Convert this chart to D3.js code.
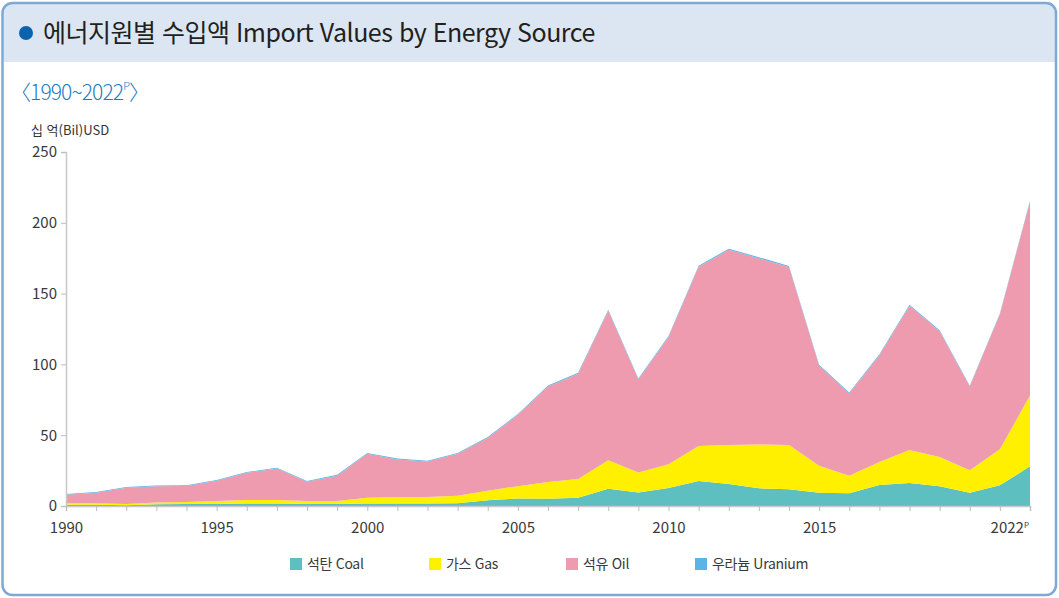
<!DOCTYPE html>
<html lang="ko">
  <head>
    <meta charset="UTF-8" />
    <title>에너지원별 수입액</title>
    <script src="https://cdn.jsdelivr.net/npm/d3@7/dist/d3.min.js"></script>
    <style>
      body { margin: 0; background: #fff; }
      text { font-family: "Noto Sans CJK KR", "Noto Sans", sans-serif; }
    </style>
  </head>
  <body>
    <div id="wrapper"></div>
    <script>
      const years = d3.range(1990, 2023);
      const coal = [0.8, 0.8, 0.6, 1.2, 1.4, 1.5, 1.8, 1.8, 1.5, 1.5, 1.7, 1.8, 1.8, 1.9, 4.1, 5.3, 5.2, 5.9, 12.2, 9.6, 12.7, 17.6, 15.5, 12.5, 11.8, 9.4, 9.0, 14.8, 16.2, 13.9, 9.4, 14.6, 28.0];
      const gas = [1.1, 1.2, 0.8, 1.3, 1.4, 2.0, 2.4, 2.5, 2.0, 2.0, 4.2, 4.5, 4.5, 5.4, 6.7, 8.7, 11.8, 13.1, 20.1, 14.0, 16.8, 24.8, 27.5, 31.0, 31.2, 19.1, 12.4, 16.2, 23.3, 20.7, 15.8, 25.4, 50.0];
      const oil = [6.0, 7.4, 11.5, 11.4, 11.4, 14.4, 19.2, 22.1, 13.6, 17.9, 31.0, 26.6, 25.1, 29.6, 37.3, 50.4, 67.4, 74.4, 105.6, 65.8, 89.9, 126.5, 137.9, 131.4, 125.7, 70.5, 58.0, 75.4, 101.9, 88.8, 59.2, 95.4, 136.9];
      const uranium = [0.5, 0.5, 0.5, 0.5, 0.5, 0.5, 0.6, 0.6, 0.6, 0.6, 0.6, 0.6, 0.6, 0.6, 0.6, 0.6, 0.7, 0.7, 0.7, 0.7, 0.7, 0.8, 0.8, 0.8, 0.8, 0.7, 0.7, 0.7, 0.7, 0.7, 0.6, 0.6, 0.7];
      const yTicks = [0, 50, 100, 150, 200, 250];
      const xTickLabels = [1990, 1995, 2000, 2005, 2010, 2015];

      const seriesKeys = ["coal", "gas", "oil", "uranium"];
      const seriesNames = ["석탄 Coal", "가스 Gas", "석유 Oil", "우라늄 Uranium"];
      const colors = ["#5ebfc0", "#fff000", "#ef9baf", "#5ab4e5"];

      const width = 1059;
      const height = 598;
      const margin = { top: 152, left: 66 };
      const plotW = 964;
      const plotH = 354;

      const table = years.map((y, i) => ({
        year: y,
        coal: coal[i],
        gas: gas[i],
        oil: oil[i],
        uranium: uranium[i],
      }));

      const svg = d3
        .select("#wrapper")
        .append("svg")
        .attr("width", width)
        .attr("height", height);

      // frame + header
      svg
        .append("path")
        .attr("d", "M3,62 V13 Q3,3 13,3 H1046 Q1056,3 1056,13 V62 Z")
        .attr("fill", "#dce6f2");
      svg
        .append("rect")
        .attr("x", 2.5)
        .attr("y", 3)
        .attr("width", 1053.5)
        .attr("height", 592)
        .attr("rx", 10)
        .attr("fill", "none")
        .attr("stroke", "#7ea9d6")
        .attr("stroke-width", 2.5);

      svg.append("circle").attr("cx", 26).attr("cy", 33).attr("r", 7).attr("fill", "#0b63ad");
      svg
        .append("text")
        .attr("x", 43)
        .attr("y", 42)
        .attr("font-size", 25)
        .attr("font-weight", 400)
        .attr("fill", "#231f20")
        .style("letter-spacing", "-0.5px")
        .text("에너지원별 수입액 Import Values by Energy Source");

      const sub = svg
        .append("text")
        .attr("x", 10)
        .attr("y", 100)
        .attr("font-size", 21)
        .attr("font-weight", 300)
        .attr("fill", "#1c7cc0")
        .style("letter-spacing", "-0.9px");
      sub.append("tspan").text("〈1990~2022");
      sub.append("tspan").attr("font-size", 11).attr("dy", -10).text("P");
      sub.append("tspan").attr("dy", 10).text("〉");

      svg
        .append("text")
        .attr("x", 31)
        .attr("y", 135)
        .attr("font-size", 13)
        .attr("fill", "#333")
        .text("십 억(Bil)USD");

      const bounds = svg
        .append("g")
        .attr("transform", `translate(${margin.left},${margin.top})`);

      const xScale = d3.scaleLinear().domain([1990, 2022]).range([0, plotW]);
      const yScale = d3.scaleLinear().domain([0, 250]).range([plotH, 0]);

      const stacked = d3.stack().keys(seriesKeys)(table);

      const area = d3
        .area()
        .x((d) => xScale(d.data.year))
        .y0((d) => yScale(d[0]))
        .y1((d) => yScale(d[1]));

      bounds
        .selectAll(".layer")
        .data(stacked)
        .join("path")
        .attr("class", "layer")
        .attr("d", area)
        .attr("fill", (d, i) => colors[i]);

      // y axis
      const yAxis = bounds
        .append("g")
        .call(d3.axisLeft(yScale).tickValues(yTicks).tickSize(5).tickPadding(4));
      yAxis.select(".domain").attr("stroke", "#c8c8c8").attr("stroke-width", 1.5);
      yAxis.selectAll(".tick line").attr("stroke", "#bdbdbd");
      yAxis
        .selectAll(".tick text")
        .attr("font-size", 15)
        .attr("fill", "#3a3a3a")
        .style("font-family", '"Noto Sans CJK KR", sans-serif');

      // x axis
      const xAxis = bounds
        .append("g")
        .attr("transform", `translate(0,${plotH})`)
        .call(
          d3
            .axisBottom(xScale)
            .tickValues(years)
            .tickSize(5)
            .tickPadding(11)
            .tickFormat((d) => (xTickLabels.includes(d) ? d : ""))
        );
      xAxis.select(".domain").attr("stroke", "#c8c8c8").attr("stroke-width", 1.5);
      xAxis.selectAll(".tick line").attr("stroke", "#bdbdbd");
      xAxis
        .selectAll(".tick text")
        .attr("font-size", 15)
        .attr("fill", "#3a3a3a")
        .style("font-family", '"Noto Sans CJK KR", sans-serif');

      const last = xAxis
        .append("text")
        .attr("x", xScale(2022) - 1)
        .attr("y", 27)
        .attr("text-anchor", "end")
        .attr("font-size", 15)
        .attr("fill", "#3a3a3a");
      last.append("tspan").text("2022");
      last.append("tspan").attr("font-size", 8).attr("dy", -5).text("P");

      // legend
      const legendX = [290, 429, 566, 695];
      const legend = svg
        .append("g")
        .selectAll("g")
        .data(seriesNames)
        .join("g")
        .attr("transform", (d, i) => `translate(${legendX[i]},558)`);
      legend
        .append("rect")
        .attr("width", 12)
        .attr("height", 12)
        .attr("fill", (d, i) => colors[i]);
      legend
        .append("text")
        .attr("x", 17)
        .attr("y", 11)
        .attr("font-size", 14)
        .attr("fill", "#3a3a3a")
        .style("letter-spacing", "-0.3px")
        .text((d) => d);
    </script>
  </body>
</html>
